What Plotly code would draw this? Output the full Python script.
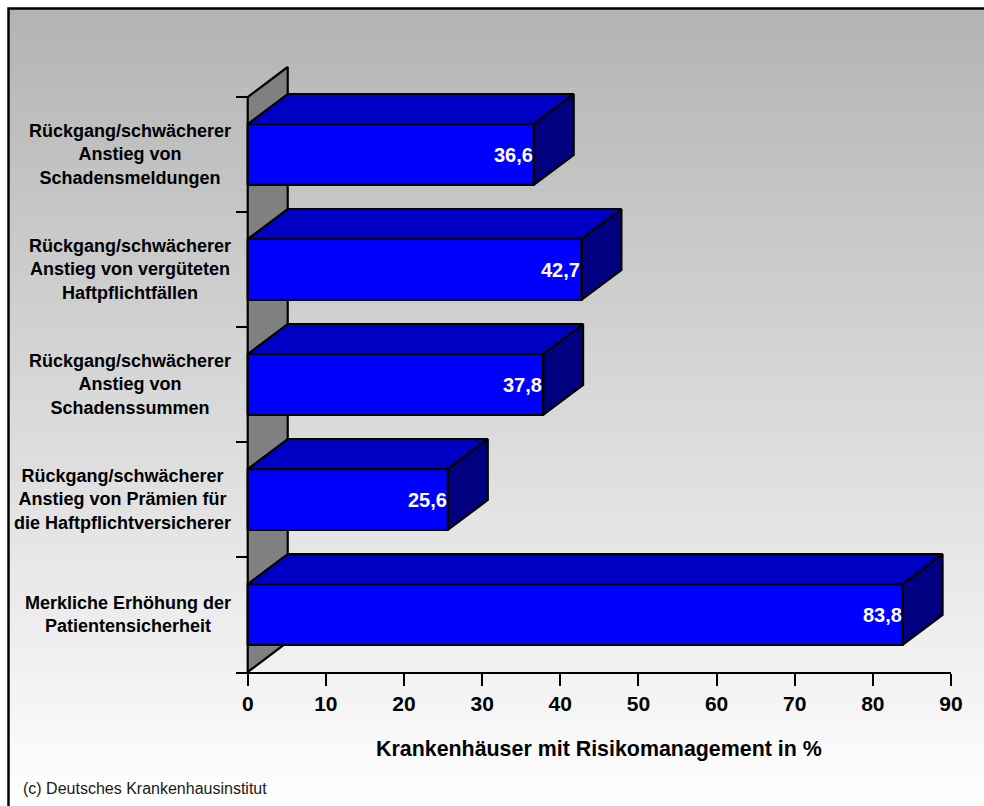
import plotly.graph_objects as go

# --- data -------------------------------------------------------------
categories = [
    "Rückgang/schwächerer<br>Anstieg von<br>Schadensmeldungen",
    "Rückgang/schwächerer<br>Anstieg von vergüteten<br>Haftpflichtfällen",
    "Rückgang/schwächerer<br>Anstieg von<br>Schadenssummen",
    "Rückgang/schwächerer<br>Anstieg von Prämien für<br>die Haftpflichtversicherer",
    "Merkliche Erhöhung der<br>Patientensicherheit",
]
values = [36.6, 42.7, 37.8, 25.6, 83.8]
x_ticks = [0, 10, 20, 30, 40, 50, 60, 70, 80, 90]
x_title = "Krankenhäuser mit Risikomanagement in %"
source_note = "(c) Deutsches Krankenhausinstitut"

# --- page geometry ----------------------------------------------------
W, H = 984, 806
M_L, M_R, M_T, M_B = 236, 33, 45, 134
PLOT_W = W - M_L - M_R
PLOT_H = H - M_T - M_B
X_LO, X_HI = -1.5, 90.0
PX_X = PLOT_W / (X_HI - X_LO)          # pixels per x unit
PX_Y = 115.0                            # pixels per category band
Y_HI = PLOT_H / PX_Y

# 3D extrusion (pixels) converted to data units
DX = 40 / PX_X
DY = 30 / PX_Y
HALF = 0.265                            # half height of a bar's front face

FONT = "Liberation Sans, Arial, sans-serif"
FRONT, TOP, SIDE, WALL = "#0000FF", "#0000C4", "#000080", "#808080"


def paper_x(px):
    return (px - M_L) / PLOT_W


def paper_y(py):
    return (H - M_B - py) / PLOT_H


def data_y_to_paper(y):
    return y * PX_Y / PLOT_H


def data_x_to_paper(x):
    return (x - X_LO) * PX_X / PLOT_W


n = len(values)
centers = [n - 0.5 - i for i in range(n)]

fig = go.Figure()


def add_polys(polys, color):
    xs, ys = [], []
    for poly in polys:
        for px, py in poly + [poly[0]]:
            xs.append(px)
            ys.append(py)
        xs.append(None)
        ys.append(None)
    fig.add_trace(go.Scatter(
        x=xs, y=ys, mode="lines", fill="toself", fillcolor=color,
        line=dict(color="black", width=2.2), hoverinfo="skip", showlegend=False,
    ))


# side wall behind the bars
add_polys([[(0, 0), (0, n), (DX, n + DY), (DX, DY)]], WALL)

# category tick marks left of the wall
tx, ty = [], []
for k in range(1, n + 1):
    tx += [X_LO, 0, None]
    ty += [k, k, None]
fig.add_trace(go.Scatter(x=tx, y=ty, mode="lines",
                         line=dict(color="black", width=2),
                         hoverinfo="skip", showlegend=False))

# 3D bars: top, side and front faces
tops, sides, fronts = [], [], []
for v, yc in zip(values, centers):
    lo, hi = yc - HALF, yc + HALF
    tops.append([(0, hi), (v, hi), (v + DX, hi + DY), (DX, hi + DY)])
    sides.append([(v, lo), (v + DX, lo + DY), (v + DX, hi + DY), (v, hi)])
    fronts.append([(0, lo), (v, lo), (v, hi), (0, hi)])
add_polys(tops, TOP)
add_polys(sides, SIDE)
add_polys(fronts, FRONT)

annotations = []
# value labels inside the bar ends
for v, yc in zip(values, centers):
    annotations.append(dict(
        x=v, y=yc, xref="x", yref="y", xanchor="right", yanchor="middle",
        xshift=1, showarrow=False,
        text=f"{v:.1f}".replace(".", ","),
        font=dict(family=FONT, size=20, color="white", weight="bold"),
    ))

# category labels, centred lines in a block ending left of the wall
for label, yc in zip(categories, centers):
    annotations.append(dict(
        x=paper_x(233), y=data_y_to_paper(yc), xref="paper", yref="paper",
        xanchor="right", yanchor="middle", align="center", showarrow=False,
        text=label,
        font=dict(family=FONT, size=18, color="black", weight="bold"),
    ))

# axis title
annotations.append(dict(
    x=data_x_to_paper((x_ticks[0] + x_ticks[-1]) / 2), y=paper_y(749),
    xref="paper", yref="paper",
    xanchor="center", yanchor="middle", showarrow=False, text=x_title,
    font=dict(family=FONT, size=21.4, color="black", weight="bold"),
))

# source note
annotations.append(dict(
    x=paper_x(21), y=paper_y(788), xref="paper", yref="paper",
    xanchor="left", yanchor="middle", showarrow=False, text=source_note,
    font=dict(family=FONT, size=16, color="#1a1a1a"),
))

# grey-to-white background gradient inside the frame
shapes = []
top_px, bot_px = 8, H + 4
steps = 90
c_top, c_bot = 179, 255
for s in range(steps):
    y0 = top_px + (bot_px - top_px) * s / steps
    y1 = top_px + (bot_px - top_px) * (s + 1) / steps + 0.6
    g = round(c_top + (c_bot - c_top) * (s + 0.5) / steps)
    shapes.append(dict(
        type="rect", xref="paper", yref="paper", layer="below",
        x0=paper_x(8), x1=paper_x(W + 10), y0=paper_y(y0), y1=paper_y(y1),
        line=dict(width=0), fillcolor=f"rgb({g},{g},{g})",
    ))
# outer frame
shapes.append(dict(
    type="rect", xref="paper", yref="paper", layer="above",
    x0=paper_x(8.5), x1=paper_x(W + 10), y0=paper_y(8.5), y1=paper_y(H + 10),
    line=dict(color="black", width=2.5), fillcolor="rgba(0,0,0,0)",
))

fig.update_layout(
    width=W, height=H,
    margin=dict(l=M_L, r=M_R, t=M_T, b=M_B, pad=0),
    paper_bgcolor="white", plot_bgcolor="rgba(0,0,0,0)",
    showlegend=False,
    shapes=shapes, annotations=annotations,
    xaxis=dict(
        range=[X_LO, X_HI], tickvals=x_ticks, ticktext=[str(t) for t in x_ticks],
        showgrid=False, zeroline=False, showline=True,
        linecolor="black", linewidth=2,
        ticks="outside", ticklen=12, tickwidth=2, tickcolor="black",
        tickfont=dict(family=FONT, size=21, color="black", weight="bold"),
        fixedrange=True,
    ),
    yaxis=dict(range=[0, Y_HI], visible=False, fixedrange=True),
)

fig.write_html("out.html")
